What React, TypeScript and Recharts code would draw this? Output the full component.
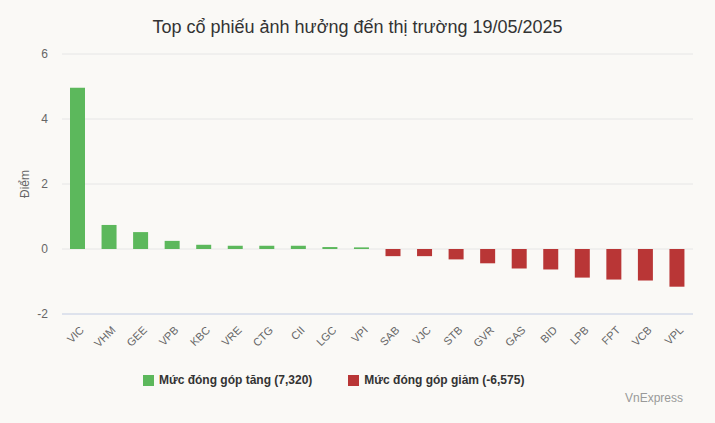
import React from "react";
import { BarChart, Bar, XAxis, YAxis, CartesianGrid, ReferenceLine } from "recharts";

const tickers = ["VIC", "VHM", "GEE", "VPB", "KBC", "VRE", "CTG", "CII", "LGC", "VPI", "SAB", "VJC", "STB", "GVR", "GAS", "BID", "LPB", "FPT", "VCB", "VPL"];
const gains = [4.96, 0.74, 0.52, 0.25, 0.13, 0.1, 0.1, 0.1, 0.06, 0.05, 0, 0, 0, 0, 0, 0, 0, 0, 0, 0];
const losses = [0, 0, 0, 0, 0, 0, 0, 0, 0, 0, -0.22, -0.22, -0.32, -0.44, -0.6, -0.63, -0.88, -0.94, -0.97, -1.16];
const yTicks = [-2, 0, 2, 4, 6];

const GREEN = "#5cb85c";
const RED = "#b93636";

const data = tickers.map((t, i) => ({ name: t, up: gains[i] || null, down: losses[i] || null }));

const font = "'Liberation Sans', Arial, sans-serif";

const RotatedTick = (props: any) => {
  const { x, y, payload } = props;
  return (
    <g transform={`translate(${x + 4},${y + 6})`}>
      <text textAnchor="end" transform="rotate(-45)" fontSize={11} fill="#666" fontFamily={font} dy={4}>
        {payload.value}
      </text>
    </g>
  );
};

export default function App() {
  return (
    <div style={{ position: "fixed", left: 0, top: 0, width: 715, height: 423, background: "#faf9f6", fontFamily: font }}>
      <div style={{ position: "absolute", top: 17, left: 0, width: 715, textAlign: "center", fontSize: 18, color: "#333" }}>
        Top cổ phiếu ảnh hưởng đến thị trường 19/05/2025
      </div>
      <div style={{ position: "absolute", top: 0, left: 0 }}>
        <BarChart width={715} height={423} data={data} margin={{ top: 54, right: 22, bottom: 59, left: 32 }} barSize={15}>
          <CartesianGrid vertical={false} stroke="#e6e6e6" />
          <XAxis dataKey="name" axisLine={false} tickLine={false} tick={<RotatedTick />} interval={0} height={50} />
          <YAxis
            domain={[-2, 6]}
            ticks={yTicks}
            axisLine={false}
            tickLine={false}
            width={30}
            tick={{ fontSize: 12, fill: "#666", fontFamily: font, dx: -6 }}
            label={{ value: "Điểm", angle: -90, position: "insideLeft", offset: -7, style: { fontSize: 12, fill: "#666", fontFamily: font, textAnchor: "middle" } }}
          />
          <ReferenceLine y={-2} stroke="#ccd6eb" />
          <Bar dataKey="up" stackId="a" fill={GREEN} isAnimationActive={false} />
          <Bar dataKey="down" stackId="a" fill={RED} isAnimationActive={false} />
        </BarChart>
      </div>
      <div style={{ position: "absolute", top: 373, left: 143, display: "flex", alignItems: "center", fontSize: 12, fontWeight: "bold", color: "#333" }}>
        <span style={{ display: "inline-block", width: 11, height: 11, background: GREEN, marginRight: 5 }} />
        Mức đóng góp tăng (7,320)
        <span style={{ display: "inline-block", width: 11, height: 11, background: RED, marginLeft: 36, marginRight: 5 }} />
        Mức đóng góp giảm (-6,575)
      </div>
      <div style={{ position: "absolute", top: 391, right: 32, fontSize: 12, color: "#999" }}>VnExpress</div>
    </div>
  );
}
